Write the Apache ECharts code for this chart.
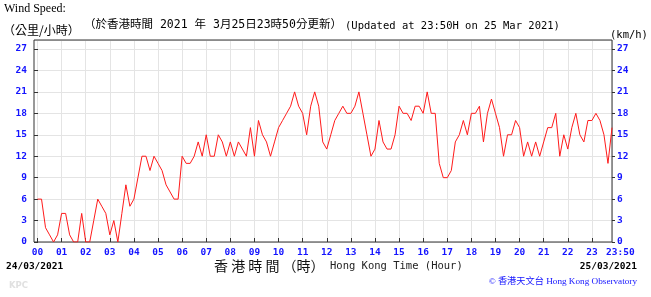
<!DOCTYPE html>
<html>
<head>
<meta charset="utf-8">
<script src="https://cdn.jsdelivr.net/npm/echarts@6/dist/echarts.min.js"></script>
<style>
html,body{margin:0;padding:0;background:#fff;}
#c{width:651px;height:297px;}
</style>
</head>
<body>
<div id="c"></div>
<script>
// ---- data (10-minute samples, 24/03/2021 00:00 -> 23:50) ----
const hourTickLabels = ['00','01','02','03','04','05','06','07','08','09','10','11','12','13','14','15','16','17','18','19','20','21','22','23'];
const endTickLabel = '23:50';
const yTickLabels = ['0','3','6','9','12','15','18','21','24','27'];
const sampleStepMinutes = 10;
const windSpeed = [
  6, 6, 2, 1, 0, 1, 4, 4, 1, 0, 0, 4,      // 00h-01h50
  0, 0, 3, 6, 5, 4, 1, 3, 0, 4, 8, 5,      // 02h-03h50
  6, 9, 12, 12, 10, 12, 11, 10, 8, 7, 6, 6, // 04h-05h50
  12, 11, 11, 12, 14, 12, 15, 12, 12, 15, 14, 12, // 06h-07h50
  14, 12, 14, 13, 12, 16, 12, 17, 15, 14, 12, 14, // 08h-09h50
  16, 17, 18, 19, 21, 19, 18, 15, 19, 21, 19, 14, // 10h-11h50
  13, 15, 17, 18, 19, 18, 18, 19, 21, 18, 15, 12, // 12h-13h50
  13, 17, 14, 13, 13, 15, 19, 18, 18, 17, 19, 19, // 14h-15h50
  18, 21, 18, 18, 11, 9, 9, 10, 14, 15, 17, 15,   // 16h-17h50
  18, 18, 19, 14, 18, 20, 18, 16, 12, 15, 15, 17, // 18h-19h50
  16, 12, 14, 12, 14, 12, 14, 16, 16, 18, 12, 15, // 20h-21h50
  13, 16, 18, 15, 14, 17, 17, 18, 17, 15, 11, 16  // 22h-23h50
];

const BLUE = '#1414ff';
const Y_MAX = 28.26;
const X_MAX = (windSpeed.length - 1) * sampleStepMinutes;
const seriesData = windSpeed.map((v, i) => [i * sampleStepMinutes, v]);

const chart = echarts.init(document.getElementById('c'), null, {renderer: 'canvas'});
const labelFont = {color: BLUE, fontFamily: 'DejaVu Sans Mono', fontWeight: 'bold', fontSize: 9.5};

chart.setOption({
  animation: false,
  backgroundColor: '#fff',
  grid: [
    {left: 34, right: 39, top: 40, bottom: 55, show: true, borderColor: '#333', borderWidth: 1, backgroundColor: 'transparent', z: 3},
    {left: 37.5, right: 39, top: 40, bottom: 55, show: false}
  ],
  xAxis: [
    {
      gridIndex: 1, type: 'value', min: 0, max: X_MAX, interval: 60,
      axisLine: {show: false},
      axisTick: {show: true, inside: true, length: 4, lineStyle: {color: '#333'}},
      axisLabel: Object.assign({margin: 6, showMaxLabel: false, showMinLabel: true,
        formatter: (v) => hourTickLabels[Math.round(v / 60)] || ''}, labelFont),
      splitLine: {show: true, lineStyle: {color: '#e4e4e4', width: 1}}
    },
    {gridIndex: 0, type: 'value', min: 0, max: 1, show: false}
  ],
  yAxis: [
    {
      gridIndex: 0, type: 'value', min: 0, max: Y_MAX, interval: 3, position: 'left',
      axisLine: {show: false},
      axisTick: {show: true, inside: true, length: 4, lineStyle: {color: '#333'}},
      axisLabel: Object.assign({margin: 7, showMaxLabel: false,
        formatter: (v) => yTickLabels[Math.round(v / 3)] || ''}, labelFont),
      splitLine: {show: true, lineStyle: {color: '#e4e4e4', width: 1}}
    },
    {
      gridIndex: 0, type: 'value', min: 0, max: Y_MAX, interval: 3, position: 'right',
      axisLine: {show: false},
      axisTick: {show: true, inside: false, length: 3, lineStyle: {color: '#333'}},
      axisLabel: Object.assign({margin: 5, showMaxLabel: false,
        formatter: (v) => yTickLabels[Math.round(v / 3)] || ''}, labelFont),
      splitLine: {show: false}
    },
    {gridIndex: 1, type: 'value', min: 0, max: Y_MAX, show: false}
  ],
  series: [{
    type: 'line', xAxisIndex: 0, yAxisIndex: 2,
    data: seriesData, symbol: 'none', z: 4,
    lineStyle: {color: '#ff1a1a', width: 1}
  }],
  graphic: [
    {type: 'text', left: 4, top: 3, style: {text: 'Wind Speed:', font: '12px "Liberation Serif"', fill: '#000'}},
    {type: 'text', left: 3, top: 24, style: {text: '（公里/小時）', font: '12px "Noto Sans CJK TC"', fill: '#000'}},
    {type: 'text', left: 84, top: 19, style: {text: '（於香港時間 2021 年 3月25日23時50分更新）', font: '11.5px "DejaVu Sans Mono", "Noto Sans CJK TC"', fill: '#000'}},
    {type: 'text', left: 345, top: 21, style: {text: '(Updated at 23:50H on 25 Mar 2021)', font: '10.5px "DejaVu Sans Mono"', fill: '#000'}},
    {type: 'text', left: 610, top: 30, style: {text: '(km/h)', font: '10.5px "DejaVu Sans Mono"', fill: '#000'}},
    {type: 'text', left: 606, top: 248, style: {text: endTickLabel, font: 'bold 9.5px "DejaVu Sans Mono"', fill: BLUE}},
    {type: 'text', left: 6, top: 262, style: {text: '24/03/2021', font: 'bold 9.5px "DejaVu Sans Mono"', fill: '#000'}},
    {type: 'text', left: 214, top: 259, style: {text: '香 港 時 間 （時）', font: '14px "Noto Sans CJK TC"', fill: '#111'}},
    {type: 'text', left: 330, top: 261, style: {text: 'Hong Kong Time (Hour)', font: '10.5px "DejaVu Sans Mono"', fill: '#222'}},
    {type: 'text', right: 14, top: 262, style: {text: '25/03/2021', font: 'bold 9.5px "DejaVu Sans Mono"', fill: '#000'}},
    {type: 'text', right: 14, top: 277, style: {text: '© 香港天文台 Hong Kong Observatory', font: '9.2px "Liberation Serif", "Noto Sans CJK TC"', fill: BLUE}},
    {type: 'text', left: 9, top: 281, style: {text: 'KPC', font: 'bold 8.5px "DejaVu Sans"', fill: '#e0e0e0'}}
  ]
});
</script>
</body>
</html>
